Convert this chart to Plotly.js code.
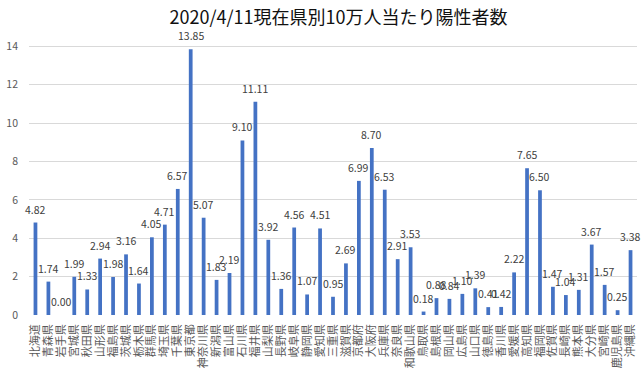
<!DOCTYPE html>
<html>
<head>
<meta charset="utf-8">
<script src="https://cdn.plot.ly/plotly-3.0.1.min.js"></script>
<style>html,body{margin:0;padding:0;background:#fff;}#chart{width:644px;height:379px;}</style>
</head>
<body>
<div id="chart"></div>
<script>
const prefectures = ["北海道","青森県","岩手県","宮城県","秋田県","山形県","福島県","茨城県","栃木県","群馬県","埼玉県","千葉県","東京都","神奈川県","新潟県","富山県","石川県","福井県","山梨県","長野県","岐阜県","静岡県","愛知県","三重県","滋賀県","京都府","大阪府","兵庫県","奈良県","和歌山県","鳥取県","島根県","岡山県","広島県","山口県","徳島県","香川県","愛媛県","高知県","福岡県","佐賀県","長崎県","熊本県","大分県","宮崎県","鹿児島県","沖縄県"];
const positivesPer100k = [4.82,1.74,0.00,1.99,1.33,2.94,1.98,3.16,1.64,4.05,4.71,6.57,13.85,5.07,1.83,2.19,9.10,11.11,3.92,1.36,4.56,1.07,4.51,0.95,2.69,6.99,8.70,6.53,2.91,3.53,0.18,0.88,0.84,1.10,1.39,0.41,0.42,2.22,7.65,6.50,1.47,1.04,1.31,3.67,1.57,0.25,3.38];
const yTicks = [0,2,4,6,8,10,12,14,16];
const chartTitle = "2020/4/11現在県別10万人当たり陽性者数";

const labelFont = {family: "Noto Sans CJK JP, Noto Sans, sans-serif", size: 10.5, color: "#404040"};
const annotations = prefectures.map((p, i) => ({
  x: p, y: positivesPer100k[i], xref: "x", yref: "y",
  text: positivesPer100k[i].toFixed(2), showarrow: false,
  yanchor: "bottom", xanchor: "center", yshift: 4, font: labelFont
}));

const data = [{
  type: "bar",
  x: prefectures,
  y: positivesPer100k,
  marker: {color: "#4472C4"},
  width: 0.29,
  hoverinfo: "x+y"
}];

const layout = {
  width: 644, height: 379,
  margin: {l: 29, r: 7, t: 7.5, b: 64},
  paper_bgcolor: "#ffffff", plot_bgcolor: "#ffffff",
  showlegend: false,
  title: {text: chartTitle, x: 0.509, xref: "paper", y: 0.953, yref: "container", xanchor: "center", yanchor: "middle",
          font: {family: "Noto Sans CJK JP, sans-serif", size: 18, color: "#111111"}},
  xaxis: {
    type: "category", tickangle: -90, showgrid: false, zeroline: false,
    showline: false, ticks: "", ticklabelstandoff: 6,
    tickmode: "array", tickvals: prefectures, ticktext: prefectures,
    tickfont: {family: "Noto Sans CJK JP, sans-serif", size: 11, color: "#595959"},
    range: [-0.5, prefectures.length - 0.5]
  },
  yaxis: {
    range: [0, 16], tickvals: yTicks, ticktext: yTicks.map(String),
    showgrid: true, gridcolor: "#d9d9d9", gridwidth: 1, zeroline: false,
    showline: false, ticks: "", ticklabelstandoff: 10,
    tickfont: {family: "Noto Sans CJK JP, sans-serif", size: 10.5, color: "#595959"}
  },
  annotations: annotations,
  bargap: 0.71
};

Plotly.newPlot("chart", data, layout, {displayModeBar: false, staticPlot: true});
</script>
</body>
</html>
